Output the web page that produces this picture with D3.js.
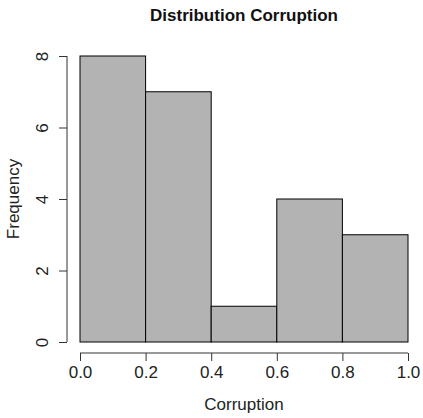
<!DOCTYPE html>
<html>
<head>
<meta charset="utf-8">
<script src="https://cdn.jsdelivr.net/npm/d3@7"></script>
<style>
  html, body { margin: 0; padding: 0; background: #fff; }
  svg { display: block; font-family: "Liberation Sans", Arial, Helvetica, sans-serif; }
</style>
</head>
<body>
<svg id="chart" width="423" height="418"></svg>
<script>
// Histogram bins (lower edge, upper edge) and counts
const binStarts = [0.0, 0.2, 0.4, 0.6, 0.8];
const binEnds   = [0.2, 0.4, 0.6, 0.8, 1.0];
const counts    = [8, 7, 1, 4, 3];
const xTicks    = [0.0, 0.2, 0.4, 0.6, 0.8, 1.0];
const yTicks    = [0, 2, 4, 6, 8];

const title  = "Distribution Corruption";
const xTitle = "Corruption";
const yTitle = "Frequency";

const svg = d3.select("#chart");

const x = d3.scaleLinear().domain([0, 1]).range([80, 408]);
const y = d3.scaleLinear().domain([0, 8]).range([342, 56]);

// Bars
svg.append("g").selectAll("rect")
  .data(counts)
  .join("rect")
  .attr("x", (d, i) => x(binStarts[i]))
  .attr("y", d => y(d))
  .attr("width", (d, i) => x(binEnds[i]) - x(binStarts[i]))
  .attr("height", d => y(0) - y(d))
  .attr("fill", "#b3b3b3")
  .attr("stroke", "#000")
  .attr("stroke-width", 1);

// X axis (detached below the plot, ticks pointing outward)
const xAxis = svg.append("g")
  .attr("transform", "translate(0,353)")
  .call(d3.axisBottom(x).tickValues(xTicks).tickFormat(d3.format(".1f")).tickSizeOuter(0).tickSizeInner(8).tickPadding(5));
xAxis.select(".domain").attr("stroke", "#333").attr("d", `M${x(0)},0H${x(1)}`);
xAxis.selectAll(".tick line").attr("stroke", "#333");
xAxis.selectAll("text").attr("font-size", 17).attr("fill", "#222")
  .attr("font-family", "'Liberation Sans', Arial, sans-serif");

// Y axis with rotated tick labels
const yAxis = svg.append("g")
  .attr("transform", "translate(67,0)")
  .call(d3.axisLeft(y).tickValues(yTicks).tickFormat(d3.format("d")).tickSizeOuter(0).tickSizeInner(8));
yAxis.select(".domain").attr("stroke", "#333").attr("d", `M0,${y(0)}V${y(8)}`);
yAxis.selectAll(".tick line").attr("stroke", "#333");
yAxis.selectAll(".tick text")
  .attr("font-size", 17).attr("fill", "#222")
  .attr("font-family", "'Liberation Sans', Arial, sans-serif")
  .attr("x", null)
  .attr("text-anchor", "middle")
  .attr("transform", "translate(-25,0) rotate(-90)")
  .attr("dy", "0.35em");

// Titles
svg.append("text")
  .attr("x", 244).attr("y", 21)
  .attr("text-anchor", "middle")
  .attr("font-size", 17).attr("font-weight", "bold").attr("fill", "#111")
  .text(title);

svg.append("text")
  .attr("x", 244).attr("y", 410)
  .attr("text-anchor", "middle")
  .attr("font-size", 17).attr("fill", "#222")
  .text(xTitle);

svg.append("text")
  .attr("transform", `translate(19,${(y(0) + y(8)) / 2}) rotate(-90)`)
  .attr("text-anchor", "middle")
  .attr("font-size", 17).attr("fill", "#222")
  .text(yTitle);
</script>
</body>
</html>
